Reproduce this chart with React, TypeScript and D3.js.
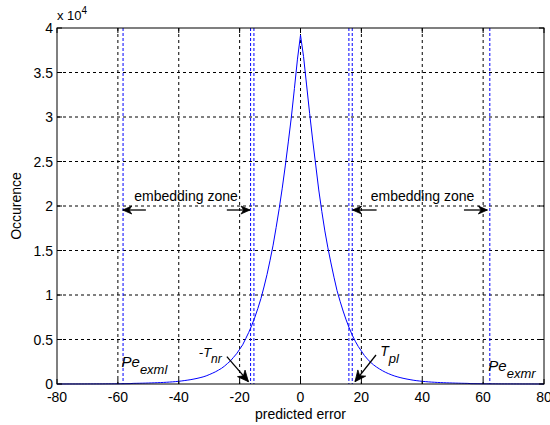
import React from "react";
import * as d3 from "d3";

const xTicks = [-80, -60, -40, -20, 0, 20, 40, 60, 80];
const yTicks = [0, 5000, 10000, 15000, 20000, 25000, 30000, 35000, 40000];
const yTickLabels = ["0", "0.5", "1", "1.5", "2", "2.5", "3", "3.5", "4"];

// predicted error values -80..80
const errors = d3.range(-80, 81);
// occurrence counts for errors -80..-1
const leftCounts = [
  2, 2, 3, 3, 4, 4, 5, 5, 6, 7, 8, 9, 10, 11, 12, 14, 16, 18, 20, 23, 26, 29, 33, 37, 42,
  70, 76, 83, 91, 100, 110, 120, 132, 146, 160, 176, 196, 218, 242, 270,
  305, 345, 390, 440, 495, 560, 630, 710, 800, 910, 1050, 1200, 1360, 1550, 1750, 2000, 2300,
  2600, 3000, 3400, 3900, 4400, 5100, 5800, 6600, 7500, 8500, 9600, 10900, 12300, 13900,
  15600, 17600, 19700, 22000, 24500, 27200, 30000, 33200, 36500,
];
// occurrence counts for errors 0..80
const rightCounts = [
  39200, 36800, 33600, 30400, 27400, 24600, 21800, 19400, 17200, 15300, 13600, 12000, 10500,
  9300, 8200, 7200, 6300, 5500, 4800, 4200, 3700, 3200, 2800, 2450, 2150, 1900, 1680, 1480,
  1300, 1150, 1010, 890, 790, 700, 620, 550, 490, 430, 380, 340, 300, 270, 240, 215, 195,
  175, 160, 145, 130, 120, 110, 100, 90, 82, 75, 68, 40, 36, 32, 29, 26, 23, 20, 18, 16, 14,
  12, 11, 10, 9, 8, 7, 6, 5, 5, 4, 4, 3, 3, 2, 2,
];
const counts = [...leftCounts, ...rightCounts];

// blue dashed threshold lines
const thresholds = [-58.3, -16.4, -15.3, 15.9, 17.0, 62.2];

const W = 550, H = 425;
const M = { left: 57, right: 544, top: 28, bottom: 384 };

export default function App() {
  const x = d3.scaleLinear().domain([-80, 80]).range([M.left, M.right]);
  const y = d3.scaleLinear().domain([0, 40000]).range([M.bottom, M.top]);
  const line = d3
    .line<number>()
    .x((_, i) => x(errors[i]))
    .y((d) => y(d));
  const path = line(counts) || "";

  const font = "'Liberation Sans', Arial, sans-serif";
  const fs = 14;

  const arrowHead = (x1: number, y1: number, x2: number, y2: number, len: number, hw: number) => {
    const ang = Math.atan2(y2 - y1, x2 - x1);
    const c = Math.cos(ang), s = Math.sin(ang);
    const bx = x2 - len * c, by = y2 - len * s;
    const nx = x2 - len * 0.7 * c, ny = y2 - len * 0.7 * s;
    const p1 = [bx - hw * -s, by - hw * c];
    const p2 = [bx + hw * -s, by + hw * c];
    return `M${x2},${y2}L${p1[0]},${p1[1]}L${nx},${ny}L${p2[0]},${p2[1]}Z`;
  };

  const Arrow = ({ fx, fy, tx, ty, len = 9, hw = 4 }: any) => {
    const x1 = x(fx), y1 = y(fy), x2 = x(tx), y2 = y(ty);
    return (
      <g>
        <line x1={x1} y1={y1} x2={x2} y2={y2} stroke="#000" strokeWidth={1.3} />
        <path d={arrowHead(x1, y1, x2, y2, len, hw)} fill="#000" stroke="#000" strokeWidth={0.8} />
      </g>
    );
  };

  const zoneY = 19550;

  return (
    <svg width={W} height={H} style={{ position: "fixed", left: 0, top: 0, background: "#fff" }}>
      <rect x={0} y={0} width={W} height={H} fill="#fff" />
      {/* grid */}
      {xTicks.slice(1, -1).map((t) => (
        <line key={"gx" + t} x1={x(t)} x2={x(t)} y1={M.top} y2={M.bottom} stroke="#000" strokeDasharray="3,3" strokeWidth={1} />
      ))}
      {yTicks.slice(1, -1).map((t) => (
        <line key={"gy" + t} x1={M.left} x2={M.right} y1={y(t)} y2={y(t)} stroke="#000" strokeDasharray="3,3" strokeWidth={1} />
      ))}
      {/* thresholds */}
      {thresholds.map((t) => (
        <line key={"th" + t} x1={x(t)} x2={x(t)} y1={M.top} y2={M.bottom} stroke="#0000ff" strokeDasharray="3,2" strokeWidth={1} />
      ))}
      {/* curve */}
      <path d={path} fill="none" stroke="#0000ff" strokeWidth={1} />
      {/* box */}
      <rect x={M.left} y={M.top} width={M.right - M.left} height={M.bottom - M.top} fill="none" stroke="#000" strokeWidth={1} />
      {/* ticks */}
      {xTicks.map((t) => (
        <g key={"tx" + t}>
          <line x1={x(t)} x2={x(t)} y1={M.bottom} y2={M.bottom - 5} stroke="#000" />
          <line x1={x(t)} x2={x(t)} y1={M.top} y2={M.top + 5} stroke="#000" />
          <text x={x(t)} y={M.bottom + 18} textAnchor="middle" fontFamily={font} fontSize={fs} fill="#000">{t}</text>
        </g>
      ))}
      {yTicks.map((t, i) => (
        <g key={"ty" + t}>
          <line x1={M.left} x2={M.left + 5} y1={y(t)} y2={y(t)} stroke="#000" />
          <line x1={M.right} x2={M.right - 5} y1={y(t)} y2={y(t)} stroke="#000" />
          <text x={M.left - 4} y={y(t) + 5} textAnchor="end" fontFamily={font} fontSize={fs} fill="#000">{yTickLabels[i]}</text>
        </g>
      ))}
      {/* exponent */}
      <text x={M.left} y={20} fontFamily={font} fontSize={13} fill="#000">
        x 10<tspan fontSize={10} dy={-6}>4</tspan>
      </text>
      {/* axis labels */}
      <text x={x(0)} y={419} textAnchor="middle" fontFamily={font} fontSize={fs} fill="#000">predicted error</text>
      <text transform={`translate(21,${y(20000)}) rotate(-90)`} textAnchor="middle" fontFamily={font} fontSize={fs} fill="#000">Occurence</text>

      {/* embedding zones */}
      <text x={x(-37.6)} y={y(20600)} textAnchor="middle" fontFamily={font} fontSize={fs} fill="#000">embedding zone</text>
      <text x={x(40.1)} y={y(20600)} textAnchor="middle" fontFamily={font} fontSize={fs} fill="#000">embedding zone</text>
      <Arrow fx={-50.8} fy={zoneY} tx={-58.4} ty={zoneY} />
      <Arrow fx={-24.2} fy={zoneY} tx={-16.6} ty={zoneY} />
      <Arrow fx={25.0} fy={zoneY} tx={17.1} ty={zoneY} />
      <Arrow fx={53.7} fy={zoneY} tx={61.4} ty={zoneY} />

      {/* thresholds labels */}
      <Arrow fx={-24.2} fy={3070} tx={-17.1} ty={260} len={11} hw={5} />
      <Arrow fx={24.8} fy={3260} tx={17.9} ty={260} len={11} hw={5} />
      <text x={x(-33.4)} y={y(3050)} fontFamily={font} fontSize={13} fontStyle="italic" fill="#000">
        -T<tspan fontSize={12} dy={6}>nr</tspan>
      </text>
      <text x={x(26.2)} y={y(3100)} fontFamily={font} fontSize={14} fontStyle="italic" fill="#000">
        T<tspan fontSize={13} dy={7}>pl</tspan>
      </text>
      <text x={x(-58.8)} y={y(1900)} fontFamily={font} fontSize={15} fontStyle="italic" fill="#000">
        Pe<tspan fontSize={13} dy={7}>exml</tspan>
      </text>
      <text x={x(61.7)} y={y(1500)} fontFamily={font} fontSize={15} fontStyle="italic" fill="#000">
        Pe<tspan fontSize={13} dy={7}>exmr</tspan>
      </text>
    </svg>
  );
}
